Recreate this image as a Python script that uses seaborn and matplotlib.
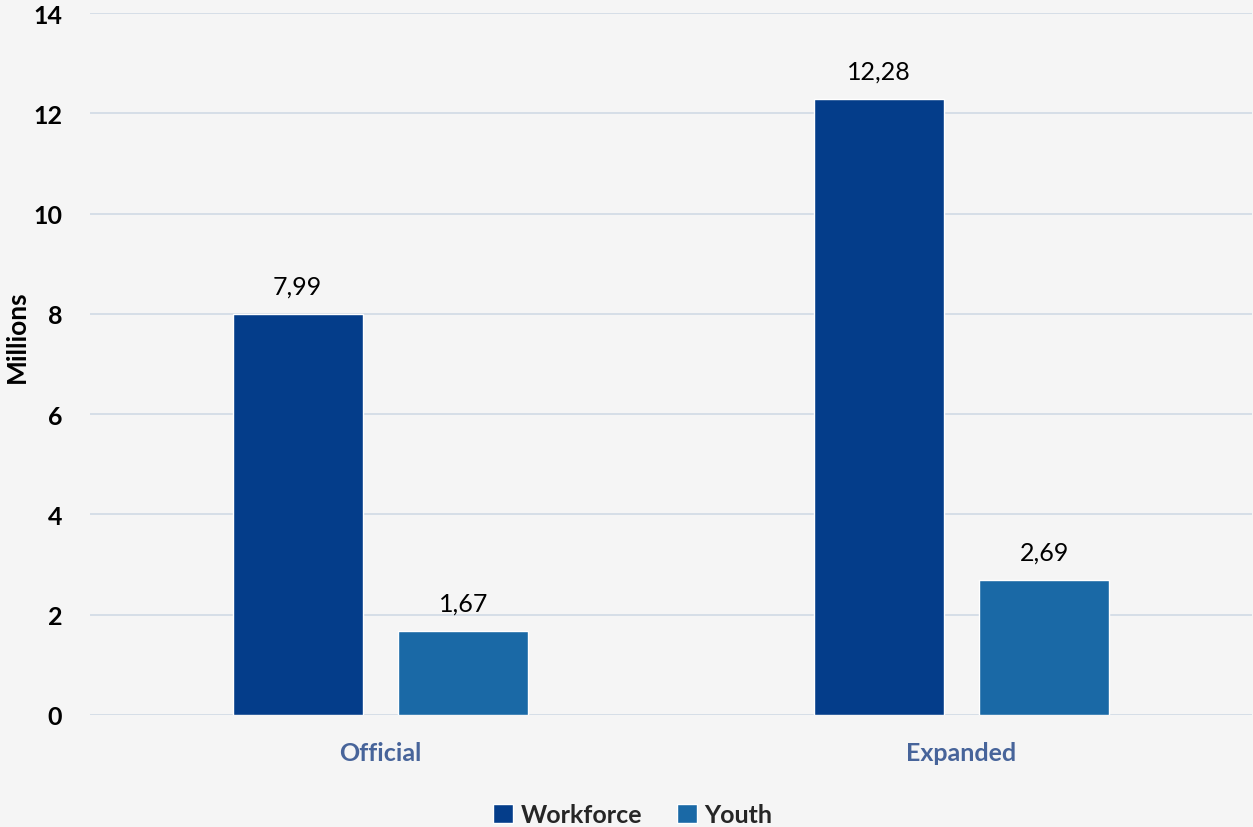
import matplotlib
matplotlib.use("Agg")
import matplotlib.pyplot as plt
import seaborn as sns
import pandas as pd

categories = ["Official", "Expanded"]
series = ["Workforce", "Youth"]
workforce = [7.99, 12.28]
youth = [1.67, 2.69]
colors = ["#043d8a", "#1a69a6"]
yticks = [0, 2, 4, 6, 8, 10, 12, 14]

df = pd.DataFrame({
    "cat": categories * 2,
    "series": [series[0]] * 2 + [series[1]] * 2,
    "val": workforce + youth,
})

sns.set_theme(style="white")
plt.rcParams['font.family'] = ['Lato', 'DejaVu Sans']

fig = plt.figure(figsize=(12.53, 8.28), dpi=100)
fig.patch.set_facecolor("#f5f5f5")
ax = fig.add_axes([90/1253, 112/828, 1162/1253, 702/828])
ax.set_facecolor("#f5f5f5")

sns.barplot(data=df, x="cat", y="val", hue="series", palette=colors,
            width=0.571, gap=0.217, ax=ax, saturation=1, legend=True)

ax.set_ylim(0, 14)
ax.set_xlim(-0.5, 1.5)
ax.set_yticks(yticks)
ax.set_yticklabels([str(t) for t in yticks], fontsize=18, fontweight="bold", color="black")
ax.yaxis.grid(True, color="#d3dce6", linewidth=1.3)
ax.set_axisbelow(True)
for s in ax.spines.values():
    s.set_visible(False)
ax.tick_params(axis="y", length=0, pad=20)
ax.tick_params(axis="x", length=0, pad=19)
for lbl in ax.get_xticklabels():
    lbl.set_fontsize(18)
    lbl.set_fontweight("bold")
    lbl.set_color("#47649a")
ax.set_xlabel("")
ax.set_ylabel("Millions", fontsize=19, fontweight="bold", color="black")
ax.yaxis.label.set_va("center")
ax.yaxis.set_label_coords(-0.063, 0.54)

for cont in ax.containers:
    ax.bar_label(cont, labels=[f"{v:.2f}".replace(".", ",") for v in cont.datavalues],
                 padding=12, fontsize=18, color="black")

handles, labels = ax.get_legend_handles_labels()
ax.get_legend().remove()
fig.legend(handles, labels, loc="lower center", bbox_to_anchor=(0.505, -0.026), ncol=2,
           frameon=False, prop={"size": 18, "weight": "bold"},
           handlelength=0.8, handleheight=0.8, handletextpad=0.3, columnspacing=1.4)

fig.savefig("out.png", dpi=100, facecolor=fig.get_facecolor())
